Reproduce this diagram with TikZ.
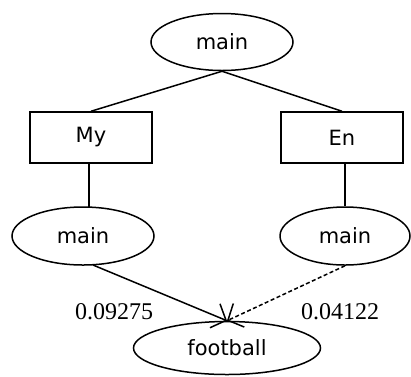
\documentclass[tikz,border=0pt]{standalone}
\usepackage{fontspec}
\setmainfont{DejaVu Sans}
\newfontfamily\numfont{Liberation Serif}
\usetikzlibrary{shapes.geometric,arrows.meta}
\tikzset{
  oval/.style={draw, ellipse, inner sep=0pt, line width=1.5pt,
    font=\fontsize{21}{24}\selectfont},
  tag/.style={draw, rectangle, inner sep=0pt, line width=1.5pt,
    minimum width=122pt, minimum height=51pt,
    font=\fontsize{21}{24}\selectfont},
  link/.style={line width=1.5pt},
  weight/.style={font=\numfont\fontsize{24}{27}\selectfont, inner sep=0pt},
  barb/.style={-{Straight Barb[length=12pt,width=26pt,line width=1.5pt]}}
}
\begin{document}
\begin{tikzpicture}[x=1pt,y=-1pt]
\useasboundingbox (0,0) rectangle (411,376);
\node[oval, minimum width=142pt, minimum height=57pt] (root) at (222,42) {main};
\node[tag] (my) at (91,137.5) {My};
\node[tag] (en) at (342,137.5) {En};
\node[oval, minimum width=142pt, minimum height=58pt] (lmain) at (83,236) {main};
\node[oval, minimum width=130pt, minimum height=58pt] (rmain) at (345,236) {main};
\node[oval, minimum width=187pt, minimum height=53pt] (foot) at (227,348) {football};
\node[weight] (wl) at (114,312) {0.09275};
\node[weight] (wr) at (340,312) {0.04122};
\coordinate (lfoot) at (93,265);
\coordinate (ldrop) at (89,207);

\draw[link] (root.south) -- (my.north);
\draw[link] (root.south) -- (en.north);
\draw[link] (my.south -| ldrop) -- (ldrop);
\draw[link] (en.south -| rmain.north) -- (rmain.north);
\draw[link, barb] (lfoot) -- (foot.north);
\draw[link, barb, dashed, dash pattern=on 4pt off 2.5pt] (rmain.south) -- (foot.north);
\end{tikzpicture}
\end{document}
